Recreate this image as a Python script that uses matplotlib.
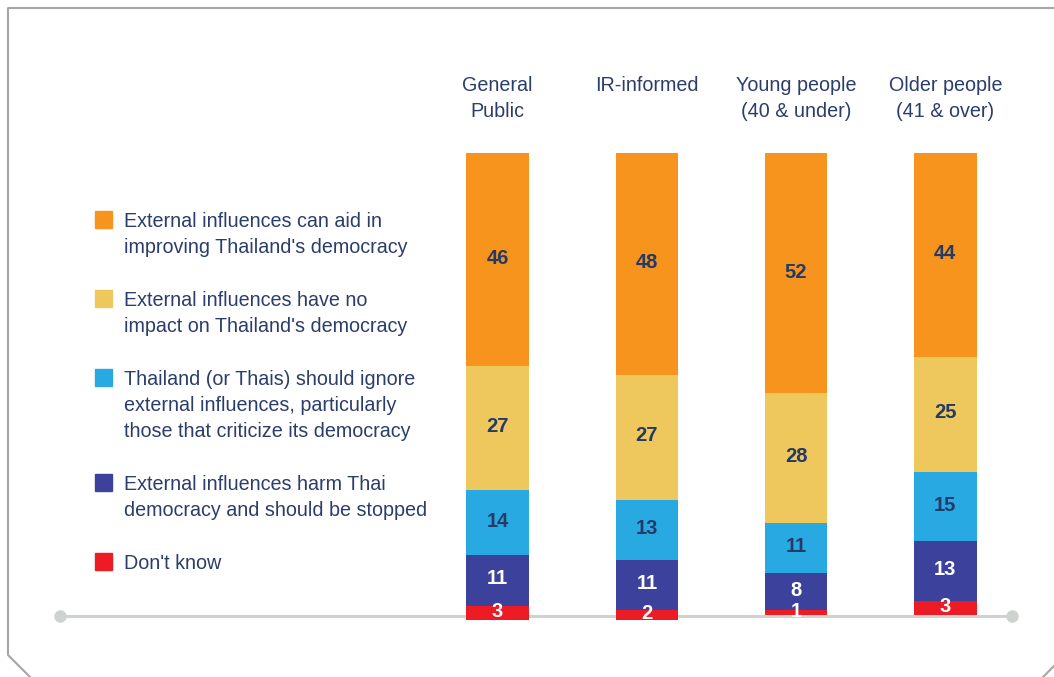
import numpy as np
import matplotlib
matplotlib.use("Agg")
import matplotlib.pyplot as plt
from matplotlib.lines import Line2D
from matplotlib.patches import Rectangle
from matplotlib.transforms import blended_transform_factory

plt.rcParams['font.family'] = ['Liberation Sans', 'DejaVu Sans']

# survey groups and answer shares (%), top answer first
groups = ["General\nPublic", "IR-informed", "Young people\n(40 & under)", "Older people\n(41 & over)"]
answers = [
    "External influences can aid in\nimproving Thailand's democracy",
    "External influences have no\nimpact on Thailand's democracy",
    "Thailand (or Thais) should ignore\nexternal influences, particularly\nthose that criticize its democracy",
    "External influences harm Thai\ndemocracy and should be stopped",
    "Don't know",
]
aid = [46, 48, 52, 44]
no_impact = [27, 27, 28, 25]
ignore = [14, 13, 11, 15]
harm = [11, 11, 8, 13]
dont_know = [3, 2, 1, 3]

colors = ["#f7941d", "#eec85c", "#29a9e1", "#3c429b", "#ed1c24"]
label_colors = ["#253a66", "#253a66", "#253a66", "white", "white"]
text_color = "#2b3d6b"

W, H = 1054, 677
fig = plt.figure(figsize=(W / 100, H / 100), dpi=100)

# frame with clipped corners
frame = Line2D([W / W, 8 / W, 8 / W, 30 / W], [1 - 8 / H, 1 - 8 / H, 1 - 655 / H, 0],
               transform=fig.transFigure, color="#a6a6a6", lw=1.5)
fig.add_artist(frame)
fig.add_artist(Line2D([1043 / W, 1], [0, 11 / H], transform=fig.transFigure, color="#a6a6a6", lw=1.5))

# baseline with round ends
base_y = 1 - 616 / H
fig.add_artist(Line2D([60 / W, 1012 / W], [base_y, base_y], transform=fig.transFigure,
                      color="#cfd3d0", lw=2.2, zorder=0))
fig.add_artist(Line2D([60 / W, 1012 / W], [base_y, base_y], transform=fig.transFigure,
                      ls="none", marker="o", ms=8, color="#cfd3d0", zorder=0))

ax = fig.add_axes([423 / W, 1 - 638 / H, 597 / W, 507.6 / H])
ax.set_xlim(-0.5, 3.5)
ax.set_ylim(-5, 105)
ax.axis("off")
ax.patch.set_alpha(0)

series = [aid, no_impact, ignore, harm, dont_know]
x = np.arange(len(groups))
top = np.full(len(groups), 100.0)
for vals, c, lc in zip(series, colors, label_colors):
    vals = np.array(vals, dtype=float)
    bottom = top - vals
    ax.bar(x, vals, bottom=bottom, width=0.42, color=c, zorder=2)
    for xi, b, v in zip(x, bottom, vals):
        ax.text(xi, b + v / 2 + 0.3, f"{int(v)}", ha="center", va="center", color=lc,
                fontsize=14.5, fontweight="bold", zorder=3)
    top = bottom

# group titles above bars
tr = blended_transform_factory(ax.transData, fig.transFigure)
for xi, g in zip(x, groups):
    for j, line in enumerate(g.split("\n")):
        ax.text(xi, 1 - (91 + 26 * j) / H, line, transform=tr, ha="center", va="baseline",
                color=text_color, fontsize=14.2)

# legend
k = 0
for name, c in zip(answers, colors):
    lines = name.split("\n")
    y0 = 227 + 26.3 * k
    fig.add_artist(Rectangle((95 / W, 1 - (y0 + 1) / H), 17 / W, 17 / H,
                             transform=fig.transFigure, color=c))
    for j, line in enumerate(lines):
        fig.text(124 / W, 1 - (y0 + 26.3 * j) / H, line, ha="left", va="baseline",
                 color=text_color, fontsize=14.2)
    k += len(lines) + 1

fig.savefig("out.png", dpi=100)
